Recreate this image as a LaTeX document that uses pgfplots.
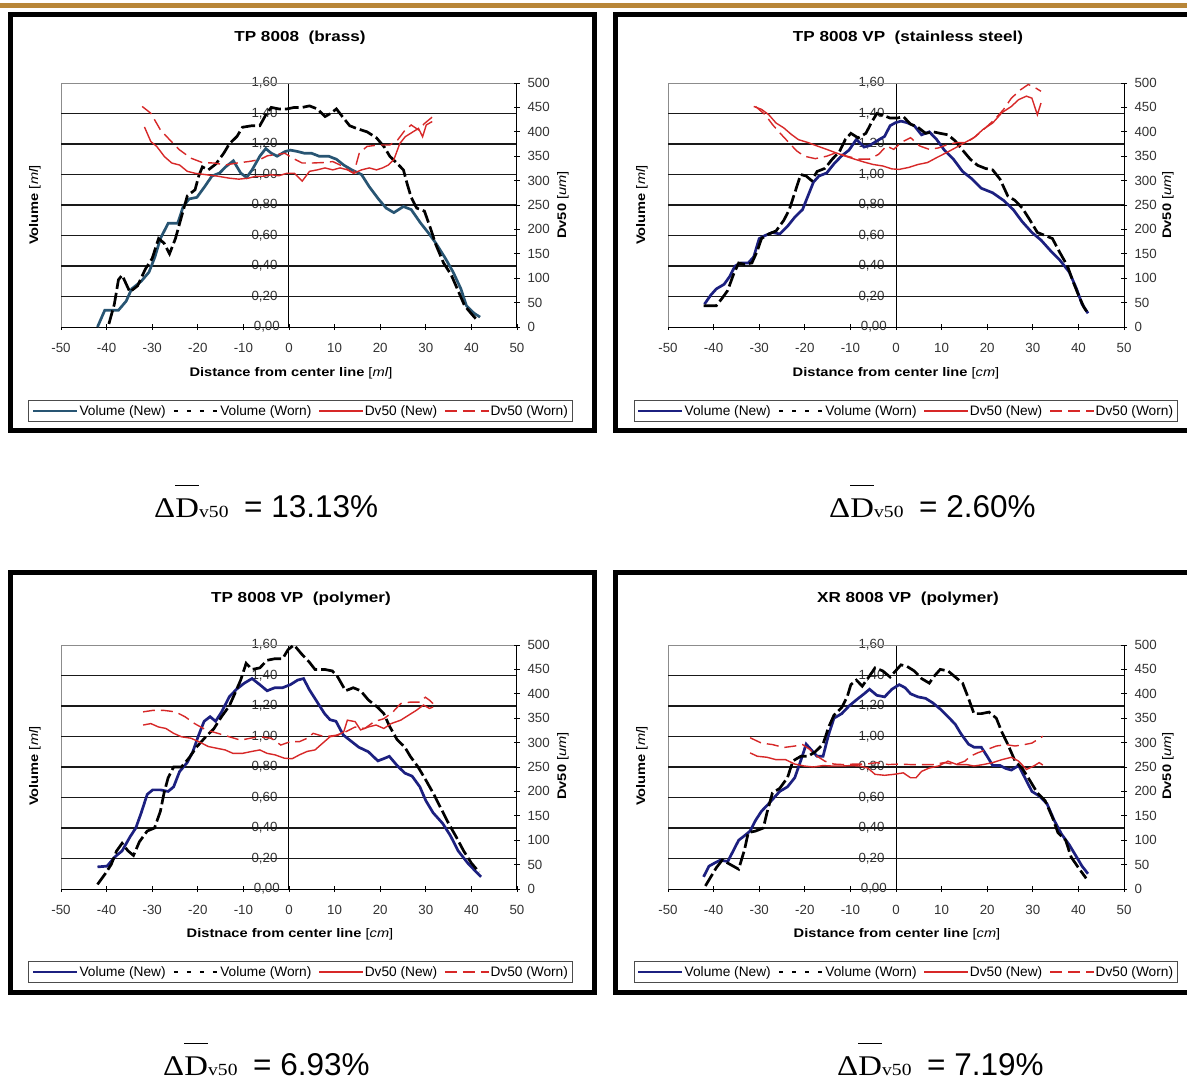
\documentclass[border=0pt]{standalone}
\usepackage{pgfplots}
\pgfplotsset{compat=1.18}
\usepackage{fontspec}
\setmainfont{Liberation Sans}[FakeStretch=1.18]
\newfontfamily\plainsans{Liberation Sans}
\newfontfamily\annsans{Liberation Sans}
\newfontfamily\annserif{Liberation Serif}[FakeStretch=1.15]
\definecolor{volteal}{RGB}{40,85,115}
\definecolor{volnavy}{RGB}{28,32,128}
\definecolor{dvred}{RGB}{215,40,40}
\definecolor{goldbar}{RGB}{184,134,56}
\newcommand\titlefont{\fontsize{14.5}{17}\selectfont\bfseries}
\newcommand\tickfont{\plainsans\fontsize{13.3}{15}\selectfont}
\newcommand\labfont{\fontsize{12.4}{14}\selectfont\bfseries}
\newcommand\legfont{\plainsans\fontsize{13.7}{15}\selectfont}
\tikzset{
 volnewT/.style={line width=2.7pt, volteal},
 volnewN/.style={line width=2.7pt, volnavy},
 volworn/.style={line width=2.7pt, black, dash pattern=on 14pt off 4pt},
 volwornleg/.style={line width=2.7pt, black, dash pattern=on 4pt off 9pt},
 dvnew/.style={line width=1.4pt, dvred},
 dvworn/.style={line width=1.4pt, dvred, dash pattern=on 12pt off 6pt},
}
\pgfplotsset{
 volax/.style={width=456pt, height=244pt, scale only axis, anchor=south west,
  xmin=-50, xmax=50, ymin=0, ymax=1.6, clip=false,
  axis x line=bottom, axis y line=center, axis line style={-, black, line width=1pt},
  xtick={-50,-40,-30,-20,-10,0,10,20,30,40,50},
  ytick={0,0.2,0.4,0.6,0.8,1,1.2,1.4,1.6},
  tick align=center, major tick length=6pt, tick style={black, line width=0.8pt},
  /pgf/number format/assume math mode=true,
  tick label style={font=\tickfont, text=black!80},
  yticklabel style={/pgf/number format/fixed, /pgf/number format/fixed zerofill, /pgf/number format/precision=2, /pgf/number format/use comma, xshift=-5pt},
  xticklabel style={yshift=-10pt},
 },
 dvax/.style={width=456pt, height=244pt, scale only axis, anchor=south west,
  xmin=-50, xmax=50, ymin=0, ymax=500, clip=false,
  axis x line=none, axis y line*=right, axis line style={-, black, line width=1pt},
  ytick={0,50,...,500},
  tick align=center, major tick length=6pt, tick style={black, line width=0.8pt},
  /pgf/number format/assume math mode=true,
  tick label style={font=\tickfont, text=black!80},
  yticklabel style={xshift=4pt},
  legend columns=4,
  legend image code/.code={\draw[##1] (0pt,0pt) -- (44pt,0pt);},
  legend style={font=\legfont, draw=black!70, line width=0.8pt, inner xsep=3pt, inner ysep=3pt,
   anchor=center, /tikz/every even column/.append style={column sep=6pt},
   nodes={inner xsep=1pt}},
 },
}
\newcommand\volgrid{%
 \draw[black!45, line width=1pt] (axis cs:-50,0) -- (axis cs:-50,1.6) -- (axis cs:50,1.6);
 \draw[black!90, line width=1.7pt] (axis cs:-50,0.2) -- (axis cs:50,0.2);
 \draw[black!90, line width=1.7pt] (axis cs:-50,0.4) -- (axis cs:50,0.4);
 \draw[black!90, line width=1.7pt] (axis cs:-50,0.6) -- (axis cs:50,0.6);
 \draw[black!90, line width=1.7pt] (axis cs:-50,0.8) -- (axis cs:50,0.8);
 \draw[black!90, line width=1.7pt] (axis cs:-50,1.0) -- (axis cs:50,1.0);
 \draw[black!90, line width=1.7pt] (axis cs:-50,1.2) -- (axis cs:50,1.2);
 \draw[black!90, line width=1.7pt] (axis cs:-50,1.4) -- (axis cs:50,1.4);
 \node[font=\tickfont, text=black!80, anchor=east, xshift=-5.7pt] at (axis cs:0,0) {0,00};
}
\newcommand\ann[3]{% x, baseline y, value
 \node[anchor=base west, inner sep=0pt] at (#1pt,-#2pt) {\annserif\fontsize{28.5}{28}\selectfont Δ\sbox0{D}\rlap{\rule[31pt]{\wd0}{1.4pt}}\usebox0};
 \node[anchor=base west, inner sep=0pt] at (#1pt+45pt,-#2pt) {\annserif\fontsize{17}{17}\selectfont v50};
 \node[anchor=base west, inner sep=0pt] at (#1pt+90pt,-#2pt) {\annsans\fontsize{31.5}{31}\selectfont = #3};
}
\begin{document}
\begin{tikzpicture}
\useasboundingbox (0pt,0pt) rectangle (1187pt,-1080pt);
\fill[white] (0pt,0pt) rectangle (1187pt,-1080pt);
\fill[goldbar] (0pt,-2.5pt) rectangle (1187pt,-7.5pt);
% frames
\draw[black, line width=5pt] (10.5pt,-14.5pt) rectangle (594.5pt,-430.5pt);
\draw[black, line width=5pt] (615.5pt,-14.5pt) rectangle (1190pt,-430.5pt);
\draw[black, line width=5pt] (10.5pt,-572.5pt) rectangle (594.5pt,-992.5pt);
\draw[black, line width=5pt] (615.5pt,-572.5pt) rectangle (1190pt,-992.5pt);
% titles
\node[font=\titlefont] at (300pt,-38pt) {TP 8008\ \ (brass)};
\node[font=\titlefont] at (908pt,-38pt) {TP 8008 VP\ \ (stainless steel)};
\node[font=\titlefont] at (301pt,-599pt) {TP 8008 VP\ \ (polymer)};
\node[font=\titlefont] at (908pt,-599pt) {XR 8008 VP\ \ (polymer)};
% axis labels
\node[font=\labfont] at (291pt,-373pt) {Distance from center line {\mdseries[\textit{ml}]}};
\node[font=\labfont] at (896pt,-373pt) {Distance from center line {\mdseries[\textit{cm}]}};
\node[font=\labfont] at (290pt,-934pt) {Distnace from center line {\mdseries[\textit{cm}]}};
\node[font=\labfont] at (897pt,-934pt) {Distance from center line {\mdseries[\textit{cm}]}};
\node[font=\labfont, rotate=90] at (35pt,-205pt) {Volume {\mdseries[\textit{ml}]}};
\node[font=\labfont, rotate=90] at (642pt,-205pt) {Volume {\mdseries[\textit{ml}]}};
\node[font=\labfont, rotate=90] at (35pt,-766pt) {Volume {\mdseries[\textit{ml}]}};
\node[font=\labfont, rotate=90] at (642pt,-766pt) {Volume {\mdseries[\textit{ml}]}};
\node[font=\labfont, rotate=90] at (563pt,-205pt) {Dv50 {\mdseries[\textit{um}]}};
\node[font=\labfont, rotate=90] at (1168pt,-205pt) {Dv50 {\mdseries[\textit{um}]}};
\node[font=\labfont, rotate=90] at (563pt,-766pt) {Dv50 {\mdseries[\textit{um}]}};
\node[font=\labfont, rotate=90] at (1168pt,-766pt) {Dv50 {\mdseries[\textit{um}]}};
% annotations
\ann{154}{517}{13.13\%}
\ann{829}{517}{2.60\%}
\ann{163}{1075}{6.93\%}
\ann{837}{1075}{7.19\%}

%================ PANEL 1 =================
\begin{axis}[volax, at={(61pt,-327pt)}]
\volgrid
\addplot[volnewT] coordinates {(-42.0,0) (-40.4,0.11) (-37.4,0.11) (-35.7,0.17) (-34.5,0.25) (-32.4,0.30) (-30.7,0.36) (-29.4,0.46) (-28.2,0.58) (-26.5,0.68) (-24.4,0.68) (-23.2,0.79) (-21.9,0.84) (-20.2,0.85) (-18.5,0.92) (-16.9,0.99) (-15.2,1.01) (-13.9,1.05) (-12.2,1.09) (-10.6,1.01) (-9.3,0.98) (-8.1,1.03) (-6.4,1.12) (-5.1,1.17) (-3.9,1.14) (-2.6,1.12) (-0.9,1.15) (0.3,1.16) (2.0,1.15) (3.3,1.14) (4.9,1.14) (6.6,1.12) (8.7,1.12) (10.4,1.10) (12.1,1.06) (13.8,1.03) (15.9,1.00) (17.6,0.92) (19.6,0.84) (21.3,0.78) (23.0,0.75) (25.1,0.79) (26.8,0.77) (28.9,0.68) (30.5,0.62) (32.2,0.55) (34.3,0.45) (36.0,0.36) (37.7,0.25) (38.9,0.14) (40.6,0.09) (41.9,0.065)};
\addplot[volworn] coordinates {(-39.5,0.02) (-38.3,0.15) (-37.4,0.31) (-36.6,0.34) (-34.9,0.23) (-33.2,0.27) (-31.5,0.38) (-30.0,0.45) (-28.6,0.58) (-27.4,0.55) (-26.2,0.48) (-24.9,0.58) (-23.7,0.71) (-22.3,0.86) (-20.6,0.90) (-19.8,0.99) (-19.0,1.05) (-17.7,1.03) (-16.0,1.07) (-14.3,1.14) (-13.1,1.20) (-11.4,1.25) (-10.2,1.31) (-8.1,1.32) (-6.4,1.32) (-5.1,1.39) (-3.9,1.44) (-2.2,1.43) (-0.5,1.43) (1.2,1.44) (2.9,1.44) (4.5,1.45) (6.2,1.43) (7.9,1.38) (9.1,1.40) (10.4,1.43) (11.7,1.38) (13.3,1.32) (15.0,1.30) (17.1,1.28) (19.2,1.24) (20.9,1.18) (22.1,1.12) (23.8,1.07) (25.1,1.03) (25.9,0.94) (26.8,0.85) (28.0,0.78) (29.7,0.76) (31.0,0.65) (32.2,0.54) (33.9,0.42) (35.6,0.34) (37.2,0.23) (38.5,0.14) (40.2,0.08) (41.4,0.04)};
\end{axis}
\begin{axis}[dvax, at={(61pt,-327pt)}, legend style={at={(0.525,-0.344)}}]
\addlegendimage{volnewT}\addlegendentry{Volume (New)}
\addlegendimage{volwornleg}\addlegendentry{Volume (Worn)}
\addplot[dvnew] coordinates {(-31.7,410) (-30.3,380) (-29.0,370) (-27.3,349) (-25.7,336) (-24.0,332) (-22.3,319) (-20.6,315) (-18.1,312) (-15.6,309) (-13.1,305) (-11.0,303) (-8.9,305) (-7.2,309) (-5.5,309) (-3.9,312) (-2.2,310) (-0.5,315) (1.2,315) (2.9,299) (4.5,319) (6.2,322) (7.9,326) (9.6,322) (11.2,326) (12.9,322) (14.2,315) (15.9,322) (17.6,326) (19.2,322) (20.5,326) (21.8,332) (23.0,343) (24.3,376) (25.5,390) (27.2,400) (28.4,407) (29.3,390) (30.1,414) (31.4,421)};
\addlegendentry{Dv50 (New)}
\addplot[dvworn] coordinates {(-32.2,452) (-30.3,438) (-28.2,404) (-26.1,383) (-24.0,363) (-21.5,346) (-19.0,337) (-16.4,336) (-13.9,332) (-11.4,336) (-8.9,339) (-6.4,343) (-4.7,351) (-3.0,353) (-0.9,356) (0.8,346) (2.9,336) (4.9,336) (7.5,337) (9.6,339) (11.2,332) (12.9,322) (14.2,315) (15.4,356) (17.1,370) (19.6,373) (22.1,373) (23.8,383) (25.5,404) (26.8,414) (28.4,404) (29.7,417) (31.0,427) (31.8,434)};
\addlegendentry{Dv50 (Worn)}
\end{axis}

%================ PANEL 2 =================
\begin{axis}[volax, at={(668pt,-327pt)}]
\volgrid
\addplot[volnewN] coordinates {(-42.0,0.15) (-40.6,0.21) (-39.4,0.25) (-37.7,0.28) (-36.5,0.33) (-35.3,0.40) (-34.0,0.42) (-32.4,0.42) (-31.2,0.46) (-30.0,0.58) (-28.7,0.60) (-27.1,0.62) (-25.5,0.61) (-23.8,0.66) (-22.2,0.72) (-20.5,0.77) (-19.3,0.86) (-18.1,0.95) (-16.9,0.99) (-15.2,1.01) (-13.6,1.07) (-12.0,1.12) (-10.3,1.16) (-8.7,1.23) (-7.0,1.18) (-5.8,1.19) (-4.2,1.22) (-2.5,1.25) (-1.3,1.32) (-0.1,1.34) (1.1,1.35) (2.4,1.34) (4.0,1.32) (5.6,1.26) (7.3,1.28) (8.9,1.23) (10.6,1.16) (12.6,1.10) (14.6,1.02) (16.7,0.97) (18.7,0.91) (21.2,0.88) (23.6,0.83) (25.7,0.77) (27.7,0.69) (29.8,0.62) (31.8,0.57) (33.9,0.50) (35.9,0.44) (38.0,0.36) (39.6,0.25) (40.8,0.15) (42.1,0.09)};
\addplot[volworn] coordinates {(-42.2,0.14) (-39.4,0.14) (-38.1,0.19) (-36.9,0.24) (-35.7,0.34) (-34.5,0.42) (-33.2,0.41) (-31.6,0.42) (-30.4,0.50) (-29.5,0.58) (-27.9,0.61) (-26.3,0.63) (-24.6,0.70) (-23.4,0.77) (-22.2,0.88) (-20.9,1.00) (-19.7,0.99) (-18.5,0.96) (-17.3,1.02) (-15.6,1.04) (-14.0,1.10) (-12.4,1.15) (-11.1,1.23) (-9.9,1.27) (-8.3,1.24) (-6.6,1.27) (-5.4,1.34) (-4.2,1.40) (-2.9,1.39) (-1.3,1.37) (0.3,1.37) (1.6,1.38) (3.2,1.33) (4.8,1.31) (6.5,1.27) (8.1,1.28) (9.7,1.27) (11.4,1.26) (13.0,1.22) (14.6,1.16) (16.3,1.10) (17.9,1.06) (19.6,1.04) (21.2,1.03) (22.8,0.97) (24.5,0.86) (26.1,0.83) (27.7,0.78) (29.4,0.70) (31.0,0.62) (32.7,0.60) (34.3,0.58) (35.9,0.49) (37.6,0.40) (38.8,0.30) (40.0,0.21) (41.2,0.13) (42.1,0.09)};
\end{axis}
\begin{axis}[dvax, at={(668pt,-327pt)}, legend style={at={(0.521,-0.344)}}]
\addlegendimage{volnewN}\addlegendentry{Volume (New)}
\addlegendimage{volwornleg}\addlegendentry{Volume (Worn)}
\addplot[dvnew] coordinates {(-31.2,452) (-29.5,446) (-27.9,435) (-26.3,418) (-24.6,408) (-23.0,395) (-21.4,384) (-19.3,378) (-17.3,371) (-15.2,364) (-13.2,357) (-11.1,350) (-9.1,344) (-7.0,338) (-5.0,333) (-2.9,330) (-0.9,324) (0.7,323) (2.8,327) (4.8,333) (6.9,337) (8.9,347) (11.0,357) (13.0,367) (15.1,378) (17.1,388) (19.1,405) (21.2,418) (23.2,439) (25.3,452) (26.9,466) (28.6,473) (29.8,469) (31.0,435) (31.8,459)};
\addlegendentry{Dv50 (New)}
\addplot[dvworn] coordinates {(-30.8,452) (-28.7,435) (-27.1,415) (-25.5,398) (-23.8,381) (-21.8,361) (-20.1,350) (-17.7,345) (-15.2,350) (-13.2,357) (-10.7,350) (-8.3,344) (-5.8,344) (-3.8,354) (-2.1,371) (-0.5,364) (1.1,378) (3.2,388) (5.2,371) (7.3,364) (9.3,367) (11.4,374) (13.4,378) (15.5,378) (17.5,391) (19.6,408) (21.6,425) (23.6,446) (25.3,469) (27.3,486) (29.0,497) (30.6,490) (31.8,483)};
\addlegendentry{Dv50 (Worn)}
\end{axis}

%================ PANEL 3 =================
\begin{axis}[volax, at={(61pt,-889pt)}]
\volgrid
\addplot[volnewN] coordinates {(-42.0,0.145) (-39.9,0.15) (-38.2,0.21) (-36.6,0.25) (-34.9,0.34) (-33.6,0.40) (-32.4,0.50) (-31.1,0.62) (-29.9,0.65) (-28.2,0.65) (-26.5,0.64) (-25.3,0.67) (-24.0,0.77) (-22.3,0.83) (-21.1,0.90) (-19.8,1.01) (-18.6,1.10) (-17.3,1.13) (-16.1,1.10) (-14.8,1.16) (-13.1,1.26) (-11.5,1.31) (-9.8,1.35) (-8.1,1.38) (-6.4,1.34) (-4.8,1.30) (-3.1,1.32) (-1.4,1.32) (0.3,1.34) (1.9,1.37) (3.2,1.38) (4.4,1.31) (6.1,1.23) (7.8,1.15) (9.0,1.11) (10.3,1.10) (11.9,1.01) (13.6,0.97) (15.3,0.93) (17.4,0.90) (19.5,0.84) (21.2,0.86) (22.0,0.87) (23.7,0.81) (25.4,0.76) (27.0,0.74) (28.7,0.67) (30.0,0.58) (31.6,0.50) (33.7,0.43) (35.4,0.35) (37.1,0.25) (39.2,0.17) (40.8,0.12) (42.1,0.08)};
\addplot[volworn] coordinates {(-42.0,0.03) (-40.3,0.10) (-39.0,0.16) (-37.8,0.25) (-36.6,0.30) (-35.3,0.25) (-34.1,0.22) (-32.8,0.31) (-31.1,0.38) (-29.5,0.40) (-28.2,0.51) (-27.4,0.63) (-26.5,0.73) (-25.3,0.80) (-23.6,0.80) (-21.9,0.86) (-20.3,0.93) (-18.2,1.00) (-16.5,1.05) (-14.8,1.13) (-13.1,1.20) (-11.9,1.28) (-10.6,1.37) (-9.4,1.48) (-8.1,1.44) (-6.4,1.45) (-4.8,1.50) (-3.1,1.51) (-1.4,1.51) (-0.2,1.57) (1.1,1.60) (2.8,1.54) (4.4,1.49) (5.7,1.44) (7.8,1.44) (9.5,1.43) (10.7,1.39) (12.4,1.30) (14.1,1.32) (15.7,1.30) (17.4,1.24) (19.5,1.19) (20.8,1.15) (22.0,1.07) (23.7,0.98) (25.4,0.93) (26.6,0.87) (28.3,0.80) (29.9,0.72) (31.6,0.63) (33.3,0.53) (35.0,0.43) (36.7,0.34) (38.3,0.25) (40.0,0.17) (41.7,0.11)};
\end{axis}
\begin{axis}[dvax, at={(61pt,-889pt)}, legend style={at={(0.525,-0.340)}}]
\addlegendimage{volnewN}\addlegendentry{Volume (New)}
\addlegendimage{volwornleg}\addlegendentry{Volume (Worn)}
\addplot[dvnew] coordinates {(-32.0,336) (-30.3,339) (-28.6,332) (-27.0,329) (-25.3,319) (-23.6,312) (-21.5,309) (-19.8,302) (-17.7,292) (-15.6,288) (-14.0,285) (-12.3,278) (-10.2,278) (-8.1,282) (-6.4,285) (-4.8,278) (-3.1,275) (-1.0,268) (0.7,267) (2.3,275) (4.0,282) (5.7,285) (7.4,299) (9.0,312) (10.7,315) (12.0,322) (12.8,346) (14.5,343) (15.7,326) (17.4,332) (19.1,336) (20.8,329) (22.4,339) (24.5,346) (26.2,356) (27.9,366) (29.5,377) (30.8,370) (31.6,373)};
\addlegendentry{Dv50 (New)}
\addplot[dvworn] coordinates {(-32.0,363) (-29.9,366) (-27.4,366) (-24.9,363) (-22.8,353) (-20.7,339) (-18.2,326) (-15.6,319) (-13.1,312) (-10.6,305) (-8.5,309) (-6.4,312) (-3.9,309) (-1.8,295) (0.3,302) (2.3,302) (4.0,309) (5.3,319) (7.8,312) (10.3,315) (12.4,322) (14.5,332) (16.6,329) (18.7,343) (20.8,349) (22.8,363) (24.5,380) (26.6,383) (28.7,383) (29.9,393) (30.8,387) (31.6,380)};
\addlegendentry{Dv50 (Worn)}
\end{axis}

%================ PANEL 4 =================
\begin{axis}[volax, at={(668pt,-889pt)}]
\volgrid
\addplot[volnewN] coordinates {(-42.2,0.08) (-41.0,0.15) (-39.8,0.17) (-38.5,0.19) (-36.9,0.18) (-35.7,0.25) (-34.5,0.32) (-33.2,0.35) (-32.0,0.38) (-30.8,0.45) (-29.5,0.51) (-27.9,0.56) (-26.7,0.60) (-25.5,0.64) (-23.8,0.67) (-22.2,0.73) (-20.9,0.84) (-19.7,0.95) (-18.5,0.91) (-17.3,0.87) (-16.0,0.87) (-14.8,1.01) (-13.6,1.12) (-11.9,1.15) (-10.3,1.20) (-8.7,1.24) (-7.0,1.28) (-5.8,1.31) (-4.2,1.27) (-2.5,1.26) (-0.9,1.31) (0.7,1.34) (2.0,1.32) (3.2,1.28) (4.8,1.26) (6.5,1.25) (8.1,1.22) (9.7,1.18) (11.4,1.13) (13.0,1.08) (14.2,1.02) (15.9,0.95) (17.1,0.93) (18.7,0.93) (20.0,0.87) (21.2,0.81) (22.8,0.81) (24.1,0.79) (25.3,0.78) (26.9,0.81) (28.6,0.71) (29.8,0.64) (31.4,0.61) (33.1,0.56) (34.7,0.45) (36.3,0.36) (38.0,0.29) (39.2,0.23) (40.8,0.15) (42.1,0.10)};
\addplot[volworn] coordinates {(-41.8,0.02) (-40.6,0.08) (-39.4,0.14) (-38.1,0.19) (-36.9,0.17) (-35.7,0.15) (-34.5,0.13) (-33.2,0.26) (-32.4,0.37) (-30.8,0.38) (-29.1,0.40) (-28.3,0.50) (-27.1,0.63) (-25.5,0.66) (-23.8,0.73) (-22.6,0.84) (-20.9,0.87) (-19.3,0.87) (-17.7,0.90) (-16.0,0.95) (-14.8,1.06) (-13.6,1.14) (-11.9,1.19) (-10.7,1.26) (-9.9,1.34) (-8.7,1.37) (-7.4,1.33) (-6.2,1.38) (-4.6,1.45) (-2.9,1.43) (-1.3,1.39) (-0.1,1.43) (1.1,1.47) (2.4,1.46) (4.0,1.43) (5.6,1.38) (7.3,1.35) (8.5,1.40) (9.7,1.44) (11.4,1.43) (13.0,1.39) (14.6,1.35) (15.9,1.25) (17.1,1.15) (18.7,1.15) (20.4,1.16) (22.0,1.12) (23.2,1.03) (24.5,0.95) (26.1,0.84) (27.7,0.79) (29.4,0.71) (31.0,0.63) (32.7,0.58) (34.3,0.47) (35.5,0.37) (37.2,0.32) (38.4,0.21) (40.0,0.14) (41.7,0.07)};
\end{axis}
\begin{axis}[dvax, at={(668pt,-889pt)}, legend style={at={(0.521,-0.340)}}]
\addlegendimage{volnewN}\addlegendentry{Volume (New)}
\addlegendimage{volwornleg}\addlegendentry{Volume (Worn)}
\addplot[dvnew] coordinates {(-32.0,279) (-30.4,272) (-28.3,270) (-26.3,265) (-24.2,265) (-22.2,256) (-20.1,252) (-18.1,250) (-16.0,253) (-14.0,252) (-11.9,252) (-9.9,253) (-7.9,252) (-6.2,248) (-4.6,235) (-2.5,233) (-0.5,235) (1.6,238) (3.2,228) (4.4,228) (5.6,241) (7.3,248) (9.3,252) (11.4,262) (13.4,255) (15.5,255) (17.1,252) (19.1,255) (21.2,259) (23.2,265) (25.3,270) (26.9,262) (28.6,245) (30.2,252) (31.4,259) (32.2,254)};
\addlegendentry{Dv50 (New)}
\addplot[dvworn] coordinates {(-32.0,310) (-29.5,299) (-27.1,296) (-24.6,290) (-22.2,293) (-20.5,296) (-18.9,286) (-17.3,272) (-15.6,262) (-13.6,256) (-11.5,255) (-9.1,256) (-6.6,256) (-4.2,259) (-1.7,255) (0.7,256) (3.2,255) (5.6,255) (8.1,255) (10.6,259) (13.0,255) (15.1,262) (16.3,272) (17.9,279) (20.0,286) (22.0,293) (24.1,296) (26.1,293) (28.2,296) (29.8,299) (31.0,306) (32.2,313)};
\addlegendentry{Dv50 (Worn)}
\end{axis}
\end{tikzpicture}
\end{document}
